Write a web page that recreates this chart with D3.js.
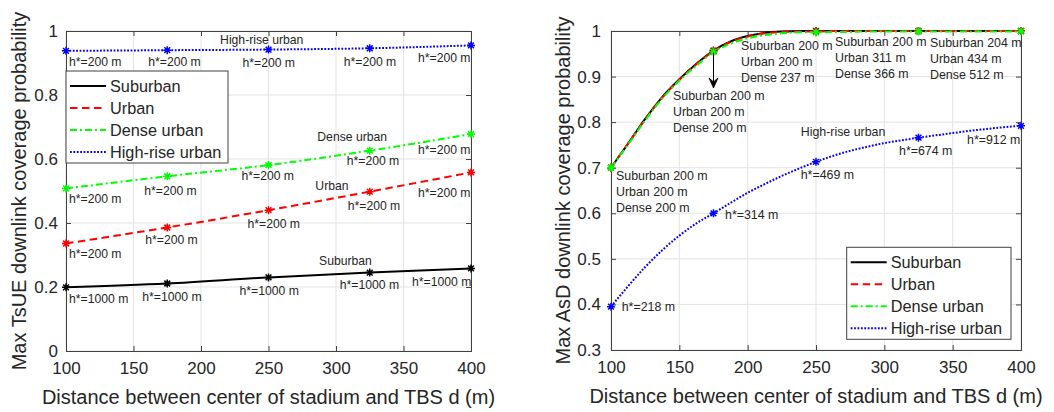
<!DOCTYPE html>
<html>
<head>
<meta charset="utf-8">
<script src="https://cdn.jsdelivr.net/npm/d3@7"></script>
<style>
  body { margin: 0; background: #fff; }
  text { font-family: "Liberation Sans", Arial, Helvetica, sans-serif; fill: #262626; }
</style>
</head>
<body>
<svg id="chart" width="1054" height="412"></svg>
<script>
// ---------- data ----------
const distances = [100, 175, 250, 325, 400];
const seriesNames = ["Suburban", "Urban", "Dense urban", "High-rise urban"];

// Left panel: max TsUE downlink coverage probability
const tsueSuburban = [0.199, 0.211, 0.230, 0.245, 0.258];
const tsueUrban    = [0.336, 0.386, 0.440, 0.498, 0.558];
const tsueDense    = [0.508, 0.546, 0.581, 0.626, 0.678];
const tsueHighRise = [0.938, 0.940, 0.942, 0.946, 0.955];
const tsueHeightSuburban = [1000, 1000, 1000, 1000, 1000];
const tsueHeightUrban    = [200, 200, 200, 200, 200];
const tsueHeightDense    = [200, 200, 200, 200, 200];
const tsueHeightHighRise = [200, 200, 200, 200, 200];

// Right panel: max AsD downlink coverage probability (finely sampled curves)
const curveDistances = [100, 112.5, 125, 137.5, 150, 162.5, 175, 187.5, 200, 212.5, 225, 237.5, 250,
                        262.5, 275, 287.5, 300, 312.5, 325, 337.5, 350, 362.5, 375, 387.5, 400];
const asdSuburban = [0.700, 0.753, 0.807, 0.855, 0.894, 0.928, 0.957, 0.977, 0.989, 0.996, 0.999, 1.000, 1.000,
                     1.000, 1.000, 1.000, 1.000, 1.000, 1.000, 1.000, 1.000, 1.000, 1.000, 1.000, 1.000];
const asdUrban    = [0.700, 0.753, 0.806, 0.854, 0.893, 0.927, 0.956, 0.976, 0.988, 0.995, 0.998, 0.999, 0.999,
                     1.000, 1.000, 1.000, 1.000, 1.000, 1.000, 1.000, 1.000, 1.000, 1.000, 1.000, 1.000];
const asdDense    = [0.700, 0.751, 0.804, 0.852, 0.891, 0.924, 0.954, 0.972, 0.984, 0.991, 0.995, 0.997, 0.997,
                     0.998, 0.998, 0.999, 0.999, 0.999, 0.999, 0.999, 0.999, 0.999, 0.999, 0.999, 0.999];
const asdHighRise = [0.395, 0.440, 0.482, 0.519, 0.551, 0.578, 0.600, 0.623, 0.645, 0.664, 0.682, 0.698, 0.713,
                     0.726, 0.737, 0.746, 0.754, 0.760, 0.766, 0.771, 0.776, 0.781, 0.785, 0.789, 0.792];
const asdHeightSuburban = [200, 200, 200, 200, 204];
const asdHeightUrban    = [200, 200, 200, 311, 434];
const asdHeightDense    = [200, 200, 237, 366, 512];
const asdHeightHighRise = [218, 314, 469, 674, 912];

const xTicks = [100, 150, 200, 250, 300, 350, 400];
const leftYTicks  = [0, 0.2, 0.4, 0.6, 0.8, 1];
const rightYTicks = [0.3, 0.4, 0.5, 0.6, 0.7, 0.8, 0.9, 1];
const xTitle = "Distance between center of stadium and TBS d (m)";
const leftYTitle  = "Max TsUE downlink coverage probability";
const rightYTitle = "Max AsD downlink coverage probability";

// ---------- styles ----------
const styles = {
  "Suburban":        { color: "#000000", dash: null },
  "Urban":           { color: "#ff0000", dash: "7.5,4.5" },
  "Dense urban":     { color: "#00ff00", dash: "7,3,2,3" },
  "High-rise urban": { color: "#0000ff", dash: "1.8,1.6" }
};

const svg = d3.select("#chart");
const axisColor = "#404040";
const gridColor = "#e3e3e3";
const tickFont = 17;
const titleFont = 20;

function asterisk(g, x, y, color) {
  const r = 4, d = r * 0.72;
  g.append("path")
    .attr("d", `M${x - r},${y}H${x + r}M${x},${y - r}V${y + r}M${x - d},${y - d}L${x + d},${y + d}M${x - d},${y + d}L${x + d},${y - d}`)
    .attr("stroke", color).attr("stroke-width", 1.5).attr("fill", "none");
}

function makePanel(cfg) {
  const x = d3.scaleLinear().domain([100, 400]).range([cfg.left, cfg.right]);
  const y = d3.scaleLinear().domain(cfg.yDomain).range([cfg.bottom, cfg.top]);
  const g = svg.append("g");

  // grid
  g.append("g").selectAll("line").data(xTicks).join("line")
    .attr("x1", d => x(d)).attr("x2", d => x(d)).attr("y1", cfg.top).attr("y2", cfg.bottom)
    .attr("stroke", gridColor).attr("stroke-width", 1);
  g.append("g").selectAll("line").data(cfg.yTicks).join("line")
    .attr("y1", d => y(d)).attr("y2", d => y(d)).attr("x1", cfg.left).attr("x2", cfg.right)
    .attr("stroke", gridColor).attr("stroke-width", 1);

  // axes with inward ticks
  const tick = 5;
  const ax = d3.axisBottom(x).tickValues(xTicks).tickSize(-tick).tickPadding(11).tickFormat(d3.format("d"));
  const ay = d3.axisLeft(y).tickValues(cfg.yTicks).tickSize(-tick).tickPadding(cfg.yPad).tickFormat(d => String(+d.toFixed(1)));
  const axT = d3.axisTop(x).tickValues(xTicks).tickSize(-tick).tickFormat("");
  const ayR = d3.axisRight(y).tickValues(cfg.yTicks).tickSize(-tick).tickFormat("");
  const style = sel => {
    sel.selectAll("path, line").attr("stroke", axisColor);
    sel.selectAll("text").attr("font-size", tickFont).attr("fill", "#262626")
      .style("font-family", '"Liberation Sans", Arial, sans-serif');
  };
  g.append("g").attr("transform", `translate(0,${cfg.bottom})`).call(ax).call(style);
  g.append("g").attr("transform", `translate(${cfg.left},0)`).call(ay).call(style);
  g.append("g").attr("transform", `translate(0,${cfg.top})`).call(axT).call(style);
  g.append("g").attr("transform", `translate(${cfg.right},0)`).call(ayR).call(style);

  // titles
  g.append("text").attr("x", (cfg.left + cfg.right) / 2).attr("y", cfg.bottom + 53)
    .attr("text-anchor", "middle").attr("font-size", titleFont).text(xTitle);
  g.append("text").attr("transform", `translate(${cfg.yTitleX},${(cfg.top + cfg.bottom) / 2}) rotate(-90)`)
    .attr("text-anchor", "middle").attr("dy", "0.35em").attr("font-size", titleFont).text(cfg.yTitle);

  return { g, x, y };
}

function drawSeries(p, xs, ys, name) {
  const st = styles[name];
  const line = d3.line().x((d, i) => p.x(xs[i])).y(d => p.y(d)).curve(d3.curveMonotoneX);
  p.g.append("path").datum(ys).attr("d", line)
    .attr("fill", "none").attr("stroke", st.color).attr("stroke-width", 2)
    .attr("stroke-dasharray", st.dash);
}

function drawMarkers(p, xs, ys, name) {
  xs.forEach((d, i) => asterisk(p.g, p.x(d), p.y(ys[i]), styles[name].color));
}

function drawLegend(p, bx, by, bw, bh) {
  const lg = p.g.append("g");
  lg.append("rect").attr("x", bx).attr("y", by).attr("width", bw).attr("height", bh)
    .attr("fill", "#fff").attr("stroke", axisColor).attr("stroke-width", 1);
  seriesNames.forEach((n, i) => {
    const yy = by + 15 + i * 22;
    lg.append("line").attr("x1", bx + 4).attr("x2", bx + 40).attr("y1", yy).attr("y2", yy)
      .attr("stroke", styles[n].color).attr("stroke-width", 2).attr("stroke-dasharray", styles[n].dash);
    lg.append("text").attr("x", bx + 44).attr("y", yy).attr("dy", "0.35em")
      .attr("font-size", 16.3).text(n);
  });
}

function label(g, px, py, txt, size, anchor) {
  g.append("text").attr("x", px).attr("y", py).attr("dy", "0.35em")
    .attr("font-size", size).attr("text-anchor", anchor || "start").attr("fill", "#1a1a1a").text(txt);
}

// ---------- left panel ----------
const L = makePanel({ left: 66, right: 471, top: 31, bottom: 351, yDomain: [0, 1], yTicks: leftYTicks,
                      yPad: 8, yTitle: leftYTitle, yTitleX: 19 });
const leftSeries = [
  { name: "Suburban", v: tsueSuburban, h: tsueHeightSuburban,
    off: [[3, 11], [-25, 13], [-29, 13], [-30, 12], [-59, 13]], tag: [307, 0.281] },
  { name: "Urban", v: tsueUrban, h: tsueHeightUrban,
    off: [[3, 10], [-22, 12], [-21, 14], [-22, 14], [-53, 20]], tag: [297, 0.516] },
  { name: "Dense urban", v: tsueDense, h: tsueHeightDense,
    off: [[3, 10], [-23, 14], [-27, 11], [-23, 10], [-53, 16]], tag: [312, 0.669] },
  { name: "High-rise urban", v: tsueHighRise, h: tsueHeightHighRise,
    off: [[3, 11], [-19, 12], [-26, 13], [-26, 13], [-53, 12]], tag: [245, 0.972] }
];
leftSeries.forEach(s => { drawSeries(L, distances, s.v, s.name); drawMarkers(L, distances, s.v, s.name); });
leftSeries.forEach(s => {
  distances.forEach((d, i) => label(L.g, L.x(d) + s.off[i][0], L.y(s.v[i]) + s.off[i][1], `h*=${s.h[i]} m`, 12.2));
  label(L.g, L.x(s.tag[0]), L.y(s.tag[1]), s.name, 12.2, "middle");
});
drawLegend(L, 66, 71, 162, 92);

// ---------- right panel ----------
const R = makePanel({ left: 611, right: 1021, top: 31, bottom: 350, yDomain: [0.3, 1], yTicks: rightYTicks,
                      yPad: 10, yTitle: rightYTitle, yTitleX: 563 });
const rightSeries = [
  { name: "Suburban", v: asdSuburban },
  { name: "Urban", v: asdUrban },
  { name: "Dense urban", v: asdDense },
  { name: "High-rise urban", v: asdHighRise }
];
const atMarks = v => distances.map(d => v[curveDistances.indexOf(d)]);
rightSeries.forEach(s => drawSeries(R, curveDistances, s.v, s.name));
rightSeries.forEach(s => drawMarkers(R, distances, atMarks(s.v), s.name));

// arrow pointing from the d = 175 m point to its height annotation
{
  const ax = R.x(175), y0 = R.y(atMarks(asdSuburban)[1]) + 2, y1 = R.y(0.875);
  R.g.append("line").attr("x1", ax).attr("x2", ax).attr("y1", y0).attr("y2", y1)
    .attr("stroke", "#000").attr("stroke-width", 1);
  R.g.append("path").attr("d", `M${ax - 4.5},${y1 - 10}L${ax},${y1}L${ax + 4.5},${y1 - 10}L${ax},${y1 - 6}Z`)
    .attr("fill", "#000").attr("stroke", "#000").attr("stroke-width", 0.8);
}

const mainOffsets = [[5, 8.4], [-40.5, 45], [-75, 15], [-83.5, 10.7], [-91, 11.3]];
const subMarks = atMarks(asdSuburban);
distances.forEach((d, i) => {
  const px = R.x(d) + mainOffsets[i][0], py = R.y(subMarks[i]) + mainOffsets[i][1];
  label(R.g, px, py, `Suburban ${asdHeightSuburban[i]} m`, 12.4);
  label(R.g, px, py + 16, `Urban ${asdHeightUrban[i]} m`, 12.4);
  label(R.g, px, py + 32, `Dense ${asdHeightDense[i]} m`, 12.4);
});
const highOffsets = [[10.7, 0], [11.5, 1.7], [-15.3, 13.3], [-19.5, 13.4], [-54, 14]];
const hiMarks = atMarks(asdHighRise);
distances.forEach((d, i) => {
  label(R.g, R.x(d) + highOffsets[i][0], R.y(hiMarks[i]) + highOffsets[i][1], `h*=${asdHeightHighRise[i]} m`, 12.4);
});
label(R.g, R.x(269.8), R.y(0.779), "High-rise urban", 12.4, "middle");
drawLegend(R, 846.7, 247.3, 164.3, 92);
</script>
</body>
</html>
